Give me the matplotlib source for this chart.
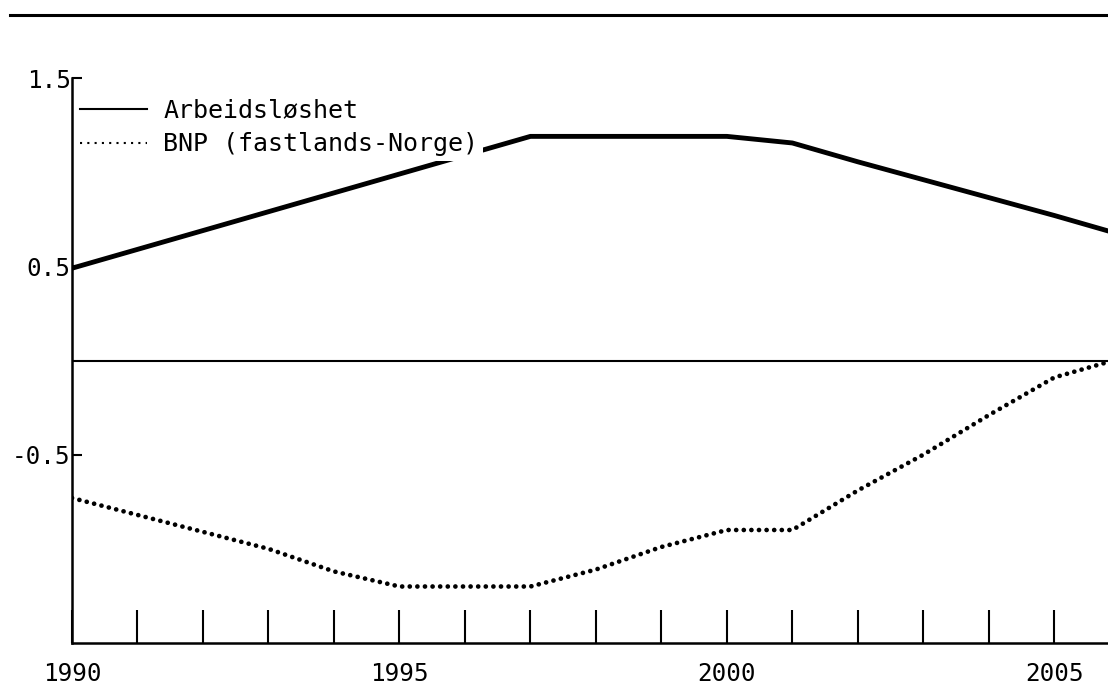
import matplotlib
matplotlib.use("Agg")
import matplotlib.pyplot as plt
from matplotlib.lines import Line2D

# ---- data ----
years = [1990, 1991, 1992, 1993, 1994, 1995, 1996, 1997, 1998, 1999,
         2000, 2001, 2002, 2003, 2004, 2005, 2006]
arbeidsloshet = [0.49, 0.59, 0.69, 0.79, 0.89, 0.99, 1.09, 1.19, 1.19, 1.19,
                 1.19, 1.155, 1.055, 0.96, 0.865, 0.77, 0.67]
bnp = [-0.73, -0.82, -0.91, -1.00, -1.12, -1.20, -1.20, -1.20, -1.11, -0.99,
       -0.90, -0.90, -0.69, -0.50, -0.29, -0.09, 0.01]
series_labels = ["Arbeidsløshet", "BNP (fastlands-Norge)"]
xtick_years = list(range(1990, 2006))
xtick_labels = [str(y) if y % 5 == 0 else "" for y in xtick_years]
ytick_vals = [-0.5, 0.5, 1.5]
ytick_labels = ["-0.5", "0.5", "1.5"]

FONT = "DejaVu Sans Mono"
plt.rcParams["font.family"] = [FONT]

W, H = 1108, 685
fig = plt.figure(figsize=(W / 100, H / 100), dpi=100)
left_px, right_px, top_px, bot_px = 72, 1108, 78, 643
ax = fig.add_axes([left_px / W, 1 - bot_px / H,
                   (right_px - left_px) / W, (bot_px - top_px) / H])

ax.plot(years, arbeidsloshet, color="black", lw=3.5, solid_capstyle="round",
        solid_joinstyle="round", zorder=3)
ax.plot(years, bnp, color="black", lw=3.4, linestyle=(0, (0.01, 1.6)),
        dash_capstyle="round", zorder=3)
ax.axhline(0, color="black", lw=1.5, zorder=2)

ax.set_xlim(1990, 2005.82)
ax.set_ylim(-1.5, 1.5)

ax.spines["top"].set_visible(False)
ax.spines["right"].set_visible(False)
ax.spines["left"].set_linewidth(1.8)
ax.spines["bottom"].set_linewidth(1.8)

ax.set_xticks(xtick_years)
ax.set_xticklabels(xtick_labels)
ax.set_yticks(ytick_vals)
ax.set_yticklabels(ytick_labels)
ax.tick_params(axis="x", direction="in", length=24, width=1.5, pad=14,
               labelsize=17.5)
ax.tick_params(axis="y", direction="in", length=7, width=1.5, pad=1,
               labelsize=17.5)

handles = [Line2D([], [], color="black", lw=1.5),
           Line2D([], [], color="black", lw=1.5, linestyle=(0, (1, 2.5)))]
leg = ax.legend(handles, series_labels, loc="upper left",
                bbox_to_anchor=(0.003, 0.973), borderaxespad=0,
                frameon=True, facecolor="white", edgecolor="none",
                framealpha=1, fancybox=False, fontsize=18,
                handlelength=2.68, handletextpad=0.64, borderpad=0.2,
                labelspacing=0.4)
leg.set_zorder(5)

# top rule across the page
fig.add_artist(Line2D([10 / W, 1.0], [1 - 15 / H, 1 - 15 / H],
                      color="black", lw=2.2, transform=fig.transFigure))

fig.savefig("out.png", dpi=100, facecolor="white")
